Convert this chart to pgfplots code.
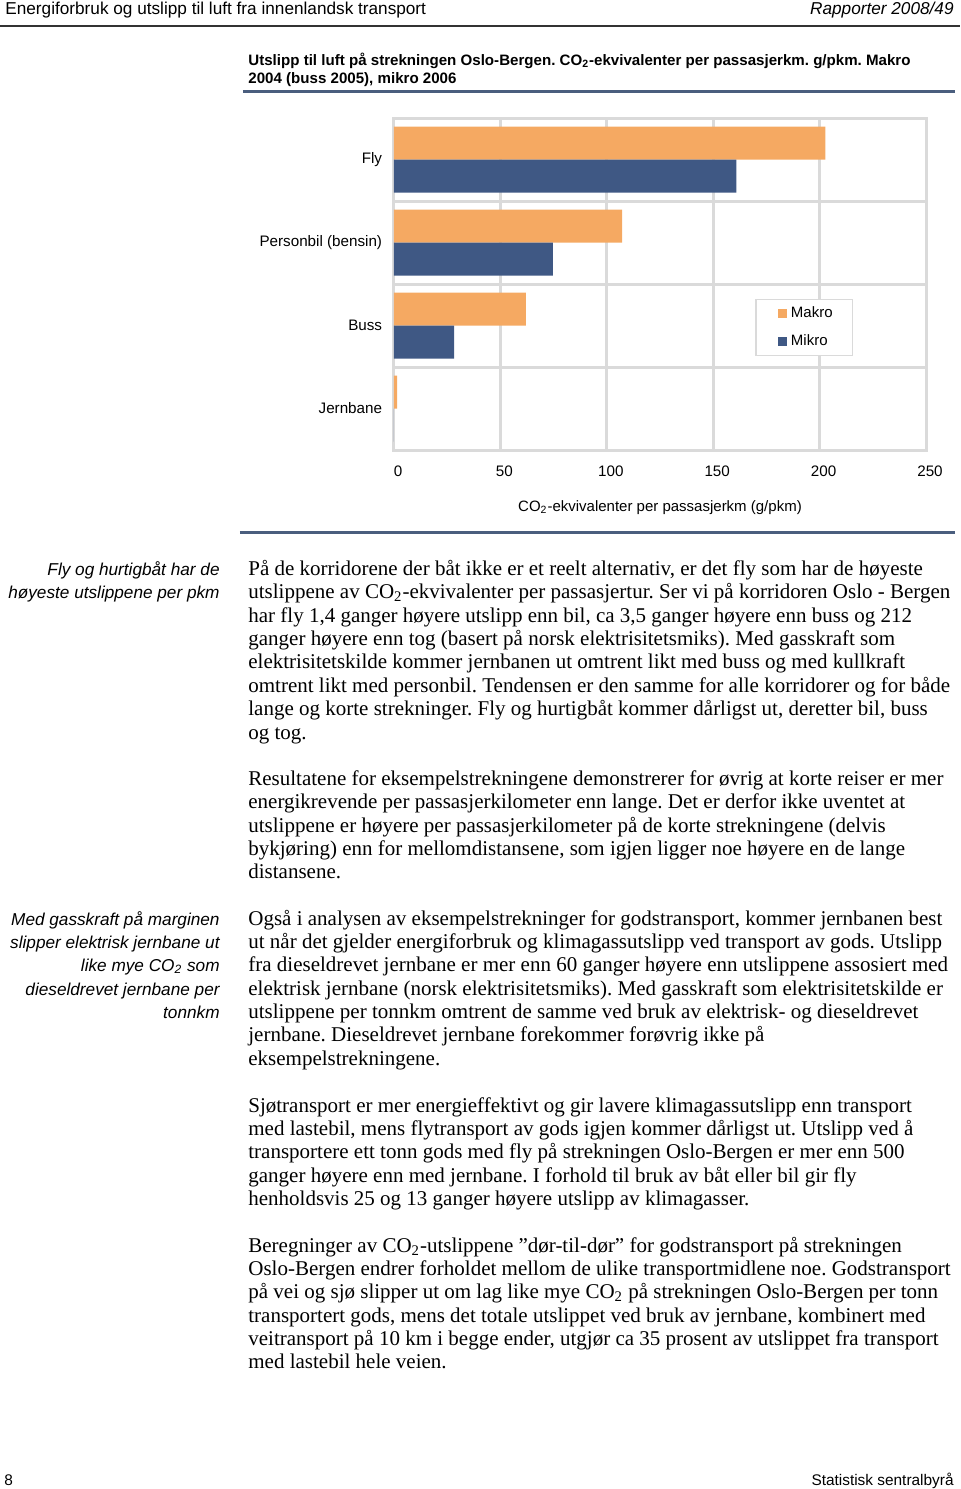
\documentclass[border=0pt]{standalone}
\usepackage{fontspec}
\setmainfont{Liberation Serif}
\newfontfamily\arial{Liberation Sans}
\usepackage{pgfplots}
\pgfplotsset{compat=1.18}
\definecolor{makro}{HTML}{F5A962}
\definecolor{mikro}{HTML}{3F5884}
\definecolor{gridc}{HTML}{DADADA}
\definecolor{rulec}{HTML}{4A5E7E}
\frenchspacing
\newcommand\BL[2]{\node[anchor=base west,inner sep=0pt,font=\fontsize{10.5}{12}\selectfont] at (248,{#1+6}) {#2};}
\newcommand\SN[2]{\node[anchor=base east,inner sep=0pt,font=\arial\itshape\fontsize{8.6}{10}\selectfont] at (220,{#1+6}) {#2};}
\begin{document}
\begin{tikzpicture}
\useasboundingbox (-197pt,225pt) rectangle (283pt,-519.5pt);
\begin{axis}[
  at={(0pt,0pt)}, anchor=south west,
  xbar, scale only axis, width=266pt, height=166pt,
  xmin=0, xmax=250, ymin=-0.5, ymax=3.5,
  xtick={0,50,100,150,200,250},
  ytick={0,1,2,3},
  yticklabels={Jernbane,Buss,Personbil (bensin),Fly},
  minor ytick={-0.5,0.5,1.5,2.5,3.5},
  xmajorgrids, yminorgrids,
  grid style={gridc, line width=1.5pt},
  minor grid style={gridc, line width=1.5pt},
  axis line style={gridc, line width=1.5pt},
  tick style={draw=none},
  /pgf/number format/assume math mode=true,
  tick label style={font=\arial\fontsize{7.6}{9}\selectfont, inner sep=0pt},
  xticklabel style={anchor=base, yshift=-13pt, xshift=2pt},
  yticklabel style={anchor=east, xshift=-1.5pt},
  xlabel={CO\textsubscript{2}-ekvivalenter per passasjerkm (g/pkm)},
  xlabel style={at={(axis description cs:0.5,0)}, anchor=base, yshift=-30.5pt, inner sep=0pt, font=\arial\fontsize{7.5}{9}\selectfont},
  legend style={at={(0.679,0.455)}, anchor=north west, draw=gridc, line width=0.75pt,
    font=\arial\fontsize{7.5}{9}\selectfont, inner xsep=8pt, inner ysep=1.5pt, row sep=3pt},
  legend cell align=left,
  bar width=16.5pt,
]
\addplot[fill=makro, draw=none, bar shift=8.25pt,
  legend image code/.code={\path (0pt,0pt); \fill[makro] (3pt,-2.25pt) rectangle (7.5pt,2.25pt);}]
  coordinates {(1.5,0) (62.0,1) (107.2,2) (202.7,3)};
\addplot[fill=mikro, draw=none, bar shift=-8.25pt,
  legend image code/.code={\path (0pt,0pt); \fill[mikro] (3pt,-2.25pt) rectangle (7.5pt,2.25pt);}]
  coordinates {(0,0) (28.3,1) (74.7,2) (160.9,3)};
\legend{Makro,Mikro}
\end{axis}
\begin{scope}[shift={(-197pt,225pt)},x=0.5pt,y=-0.5pt]
% header
\node[anchor=base west,inner sep=0pt,font=\arial\fontsize{8.6}{10}\selectfont] at (5,15) {Energiforbruk og utslipp til luft fra innenlandsk transport};
\node[anchor=base east,inner sep=0pt,font=\arial\itshape\fontsize{8.6}{10}\selectfont] at (954,15) {Rapporter 2008/49};
\draw[line width=1pt, black!80] (0,26) -- (960,26);
% title
\node[anchor=base west,inner sep=0pt,font=\arial\bfseries\fontsize{7.55}{9}\selectfont] at (248,66) {Utslipp til luft på strekningen Oslo-Bergen. CO\textsubscript{2}-ekvivalenter per passasjerkm. g/pkm. Makro};
\node[anchor=base west,inner sep=0pt,font=\arial\bfseries\fontsize{7.55}{9}\selectfont] at (248,84) {2004 (buss 2005), mikro 2006};
\draw[line width=1.5pt, rulec] (243,92) -- (955,92);
\draw[line width=1.5pt, rulec] (240,532) -- (955,532);
% side notes
\SN{569}{Fly og hurtigbåt har de}
\SN{592}{høyeste utslippene per pkm}
\SN{919}{Med gasskraft på marginen}
\SN{942}{slipper elektrisk jernbane ut}
\SN{965}{like mye CO\textsubscript{2} som}
\SN{989}{dieseldrevet jernbane per}
\SN{1012}{tonnkm}
% body
\BL{569}{På de korridorene der båt ikke er et reelt alternativ, er det fly som har de høyeste}
\BL{592}{utslippene av CO\textsubscript{2}-ekvivalenter per passasjertur. Ser vi på korridoren Oslo - Bergen}
\BL{616}{har fly 1,4 ganger høyere utslipp enn bil, ca 3,5 ganger høyere enn buss og 212}
\BL{639}{ganger høyere enn tog (basert på norsk elektrisitetsmiks). Med gasskraft som}
\BL{662}{elektrisitetskilde kommer jernbanen ut omtrent likt med buss og med kullkraft}
\BL{686}{omtrent likt med personbil. Tendensen er den samme for alle korridorer og for både}
\BL{709}{lange og korte strekninger. Fly og hurtigbåt kommer dårligst ut, deretter bil, buss}
\BL{733}{og tog.}
\BL{779}{Resultatene for eksempelstrekningene demonstrerer for øvrig at korte reiser er mer}
\BL{802}{energikrevende per passasjerkilometer enn lange. Det er derfor ikke uventet at}
\BL{826}{utslippene er høyere per passasjerkilometer på de korte strekningene (delvis}
\BL{849}{bykjøring) enn for mellomdistansene, som igjen ligger noe høyere en de lange}
\BL{872}{distansene.}
\BL{919}{Også i analysen av eksempelstrekninger for godstransport, kommer jernbanen best}
\BL{942}{ut når det gjelder energiforbruk og klimagassutslipp ved transport av gods. Utslipp}
\BL{965}{fra dieseldrevet jernbane er mer enn 60 ganger høyere enn utslippene assosiert med}
\BL{989}{elektrisk jernbane (norsk elektrisitetsmiks). Med gasskraft som elektrisitetskilde er}
\BL{1012}{utslippene per tonnkm omtrent de samme ved bruk av elektrisk- og dieseldrevet}
\BL{1035}{jernbane. Dieseldrevet jernbane forekommer forøvrig ikke på}
\BL{1059}{eksempelstrekningene.}
\BL{1106}{Sjøtransport er mer energieffektivt og gir lavere klimagassutslipp enn transport}
\BL{1129}{med lastebil, mens flytransport av gods igjen kommer dårligst ut. Utslipp ved å}
\BL{1152}{transportere ett tonn gods med fly på strekningen Oslo-Bergen er mer enn 500}
\BL{1176}{ganger høyere enn med jernbane. I forhold til bruk av båt eller bil gir fly}
\BL{1199}{henholdsvis 25 og 13 ganger høyere utslipp av klimagasser.}
\BL{1246}{Beregninger av CO\textsubscript{2}-utslippene ”dør-til-dør” for godstransport på strekningen}
\BL{1269}{Oslo-Bergen endrer forholdet mellom de ulike transportmidlene noe. Godstransport}
\BL{1292}{på vei og sjø slipper ut om lag like mye CO\textsubscript{2} på strekningen Oslo-Bergen per tonn}
\BL{1316}{transportert gods, mens det totale utslippet ved bruk av jernbane, kombinert med}
\BL{1339}{veitransport på 10 km i begge ender, utgjør ca 35 prosent av utslippet fra transport}
\BL{1362}{med lastebil hele veien.}
% footer
\node[anchor=base west,inner sep=0pt,font=\arial\fontsize{7.7}{9}\selectfont] at (4,1485) {8};
\node[anchor=base east,inner sep=0pt,font=\arial\fontsize{7.7}{9}\selectfont] at (954,1485) {Statistisk sentralbyrå};
\end{scope}
\end{tikzpicture}
\end{document}
